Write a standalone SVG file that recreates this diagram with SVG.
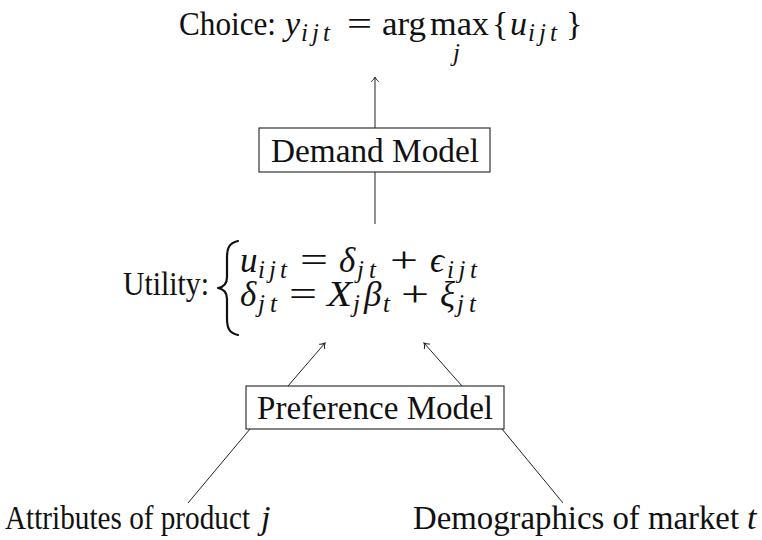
<svg xmlns="http://www.w3.org/2000/svg" width="762" height="540" viewBox="0 0 762 540">
  <style>
    text { font-family: "Liberation Serif", "Times New Roman", "DejaVu Serif", serif; fill: #111; }
    .rm { font-size: 33px; }
    .mr { font-size: 34px; }
    .it { font-size: 34px; font-style: italic; }
    .sub { font-size: 25px; font-style: italic; }
    .big { font-size: 35px; }
    .bigi { font-size: 35px; font-style: italic; }
    .box { fill: #fff; stroke: #222; stroke-width: 1.1; }
    .edge { fill: none; stroke: #222; stroke-width: 1; }
    .brace { fill: none; stroke: #111; stroke-width: 2.2; stroke-linecap: round; stroke-linejoin: round; }
  </style>
  <defs>
    <marker id="tip" viewBox="-6 -5 8 10" markerWidth="8" markerHeight="10" refX="0" refY="0" orient="auto" markerUnits="userSpaceOnUse">
      <path d="M -4.5 -3.5 C -3 -1.5, -1 -0.4, 0 0 C -1 0.4, -3 1.5, -4.5 3.5" fill="none" stroke="#222" stroke-width="1" stroke-linecap="round"/>
    </marker>
  </defs>

  <!-- connectors -->
  <g id="connectors">
    <line class="edge" x1="375" y1="128" x2="375" y2="77" marker-end="url(#tip)"/>
    <line class="edge" x1="375" y1="172" x2="375" y2="224"/>
    <line class="edge" x1="288" y1="386" x2="325" y2="343" marker-end="url(#tip)"/>
    <line class="edge" x1="462" y1="386" x2="424" y2="343" marker-end="url(#tip)"/>
    <line class="edge" x1="250" y1="429" x2="188" y2="503"/>
    <line class="edge" x1="502" y1="429" x2="563" y2="503"/>
  </g>

  <!-- choice rule -->
  <g id="choice">
    <text class="rm" x="179" y="35" textLength="97" lengthAdjust="spacingAndGlyphs">Choice:</text>
    <text class="it" x="285" y="35">y</text>
    <text class="sub" x="301" y="41" textLength="29" lengthAdjust="spacing">ijt</text>
    <text class="mr" x="347" y="35" textLength="25" lengthAdjust="spacingAndGlyphs">=</text>
    <text class="mr" x="382" y="35" textLength="44" lengthAdjust="spacingAndGlyphs">arg</text>
    <text class="mr" x="430" y="35" textLength="59" lengthAdjust="spacingAndGlyphs">max</text>
    <text class="sub" x="453" y="61">j</text>
    <text class="mr" x="492" y="35">{</text>
    <text class="it" x="510" y="35">u</text>
    <text class="sub" x="528" y="41" textLength="29" lengthAdjust="spacing">ijt</text>
    <text class="mr" x="566" y="35">}</text>
  </g>

  <!-- demand model -->
  <g id="demand-model">
    <rect class="box" x="259" y="128" width="231" height="44"/>
    <text class="rm" x="271" y="162" textLength="208" lengthAdjust="spacingAndGlyphs">Demand Model</text>
  </g>

  <!-- utility specification -->
  <g id="utility">
    <text class="rm" x="123" y="295" textLength="86" lengthAdjust="spacingAndGlyphs">Utility:</text>
    <path class="brace" d="M 238 241 C 229 243, 227 248, 227 258 L 227 277 C 227 284, 224 287, 218 288 C 224 289, 227 292, 227 299 L 227 318 C 227 328, 229 333, 238 335"/>

    <text class="bigi" x="240" y="272">u</text>
    <text class="sub" x="258" y="278" textLength="29" lengthAdjust="spacing">ijt</text>
    <text class="big" x="300" y="272" textLength="28" lengthAdjust="spacingAndGlyphs">=</text>
    <text class="bigi" x="339" y="272">δ</text>
    <text class="sub" x="357" y="278" textLength="19" lengthAdjust="spacing">jt</text>
    <text class="big" x="390" y="272" textLength="28" lengthAdjust="spacingAndGlyphs">+</text>
    <text class="bigi" x="430" y="272">ϵ</text>
    <text class="sub" x="447" y="278" textLength="30" lengthAdjust="spacing">ijt</text>

    <text class="bigi" x="240" y="306">δ</text>
    <text class="sub" x="258" y="312" textLength="19" lengthAdjust="spacing">jt</text>
    <text class="big" x="289" y="306" textLength="28" lengthAdjust="spacingAndGlyphs">=</text>
    <text class="bigi" x="327" y="306" textLength="25" lengthAdjust="spacingAndGlyphs">X</text>
    <text class="sub" x="353" y="312">j</text>
    <text class="bigi" x="364" y="306">β</text>
    <text class="sub" x="383" y="312">t</text>
    <text class="big" x="401" y="306" textLength="28" lengthAdjust="spacingAndGlyphs">+</text>
    <text class="bigi" x="440" y="306">ξ</text>
    <text class="sub" x="457" y="312" textLength="19" lengthAdjust="spacing">jt</text>
  </g>

  <!-- preference model -->
  <g id="preference-model">
    <rect class="box" x="246" y="386" width="258" height="43"/>
    <text class="rm" x="257" y="419" textLength="236" lengthAdjust="spacingAndGlyphs">Preference Model</text>
  </g>

  <!-- inputs -->
  <g id="attributes">
    <text class="rm" x="5" y="529" textLength="245" lengthAdjust="spacingAndGlyphs">Attributes of product</text>
    <text class="it" x="261" y="529">j</text>
  </g>
  <g id="demographics">
    <text class="rm" x="413" y="529" textLength="326" lengthAdjust="spacingAndGlyphs">Demographics of market</text>
    <text class="it" x="747" y="529">t</text>
  </g>
</svg>
